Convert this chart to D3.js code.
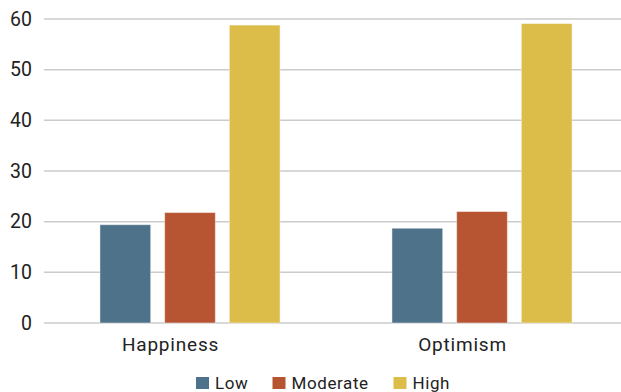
<!DOCTYPE html>
<html>
<head>
<meta charset="utf-8">
<script src="https://cdn.jsdelivr.net/npm/d3@7"></script>
<style>
  html, body { margin: 0; padding: 0; background: #fff; }
  svg { display: block; font-family: Roboto, "DejaVu Sans", sans-serif; }
</style>
</head>
<body>
<svg id="chart" width="621" height="392"></svg>
<script>
// Survey groups and their shares (%) by level
const categories = ["Happiness", "Optimism"];
const levels = ["Low", "Moderate", "High"];
const lowValues = [19.4, 18.7];
const moderateValues = [21.8, 22.0];
const highValues = [58.8, 59.1];
const yTicks = [0, 10, 20, 30, 40, 50, 60];
const colors = ["#4e7289", "#b75533", "#dcbd4a"];

const seriesValues = [lowValues, moderateValues, highValues];
const rows = categories.map((c, i) => ({
  category: c,
  values: levels.map((l, j) => ({ level: l, value: seriesValues[j][i], idx: j }))
}));

const svg = d3.select("#chart");
const margin = { left: 44, right: -7, top: 19, bottom: 69 };
const width = 621, height = 392;

const x0 = d3.scaleBand()
  .domain(categories)
  .range([margin.left, width - margin.right])
  .paddingInner(0)
  .paddingOuter(0);

const x1 = d3.scaleBand()
  .domain(levels)
  .range([0, x0.bandwidth()])
  .paddingInner(0.216)
  .paddingOuter(0.865);

const y = d3.scaleLinear()
  .domain([0, 60])
  .range([height - margin.bottom, margin.top]);

// horizontal gridlines
svg.append("g")
  .selectAll("line")
  .data(yTicks)
  .join("line")
  .attr("x1", margin.left)
  .attr("x2", width)
  .attr("y1", d => y(d))
  .attr("y2", d => y(d))
  .attr("stroke", "#cbcbcb")
  .attr("stroke-width", 1.5);

// y-axis labels
const yAxis = d3.axisLeft(y).tickValues(yTicks).tickSize(0).tickPadding(0);
const yg = svg.append("g")
  .attr("transform", `translate(${margin.left - 12},0)`)
  .call(yAxis);
yg.select(".domain").remove();
yg.selectAll("text")
  .attr("font-size", 19.5)
  .attr("font-family", "Roboto, sans-serif")
  .attr("fill", "#222");

// bars
const groups = svg.append("g")
  .selectAll("g")
  .data(rows)
  .join("g")
  .attr("transform", d => `translate(${x0(d.category)},0)`);

groups.selectAll("rect")
  .data(d => d.values)
  .join("rect")
  .attr("x", d => x1(d.level))
  .attr("width", x1.bandwidth())
  .attr("y", d => y(d.value))
  .attr("height", d => y(0) - y(d.value))
  .attr("fill", d => colors[d.idx])
  .attr("stroke", "#ffffff")
  .attr("stroke-opacity", 0.45)
  .attr("stroke-width", 1);

// category labels sit a little left of their bar groups
const xAxis = d3.axisBottom(x0).tickSize(0).tickPadding(0);
const xg = svg.append("g")
  .attr("transform", `translate(-19.5,${y(0) + 14})`)
  .call(xAxis);
xg.select(".domain").remove();
xg.selectAll("text")
  .attr("font-size", 19)
  .attr("letter-spacing", 0.8)
  .attr("font-family", "Roboto, sans-serif")
  .attr("fill", "#222");

// legend
const legendItems = [
  { label: "Low", x: 196 },
  { label: "Moderate", x: 272.5 },
  { label: "High", x: 393.5 }
];
const legend = svg.append("g");
const li = legend.selectAll("g")
  .data(legendItems)
  .join("g")
  .attr("transform", d => `translate(${d.x},0)`);
li.append("rect")
  .attr("x", 0)
  .attr("y", 377)
  .attr("width", 13)
  .attr("height", 12)
  .attr("fill", (d, i) => colors[i]);
li.append("text")
  .attr("x", 19)
  .attr("y", 388.5)
  .attr("font-size", 17)
  .attr("letter-spacing", 0.6)
  .attr("fill", "#222")
  .text(d => d.label);
</script>
</body>
</html>
